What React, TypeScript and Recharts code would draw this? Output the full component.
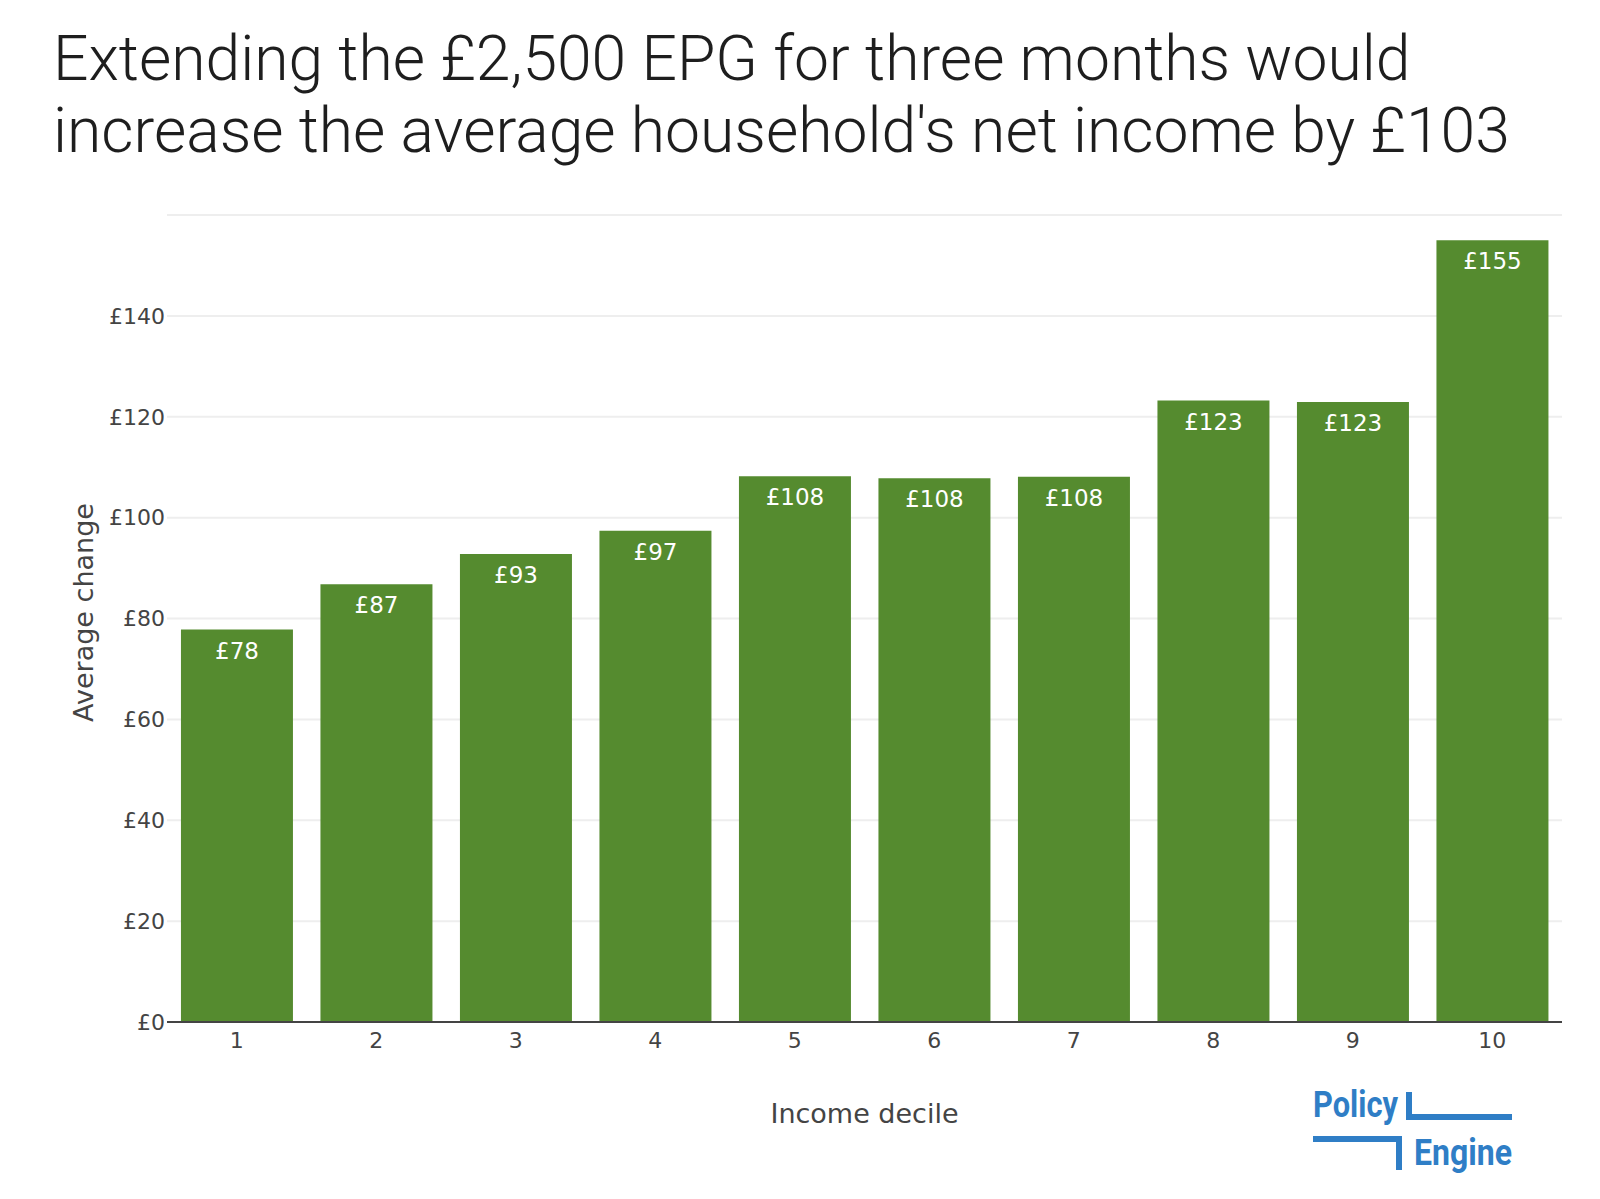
import { BarChart, Bar, XAxis, YAxis, CartesianGrid, LabelList } from 'recharts';

const deciles = ['1', '2', '3', '4', '5', '6', '7', '8', '9', '10'];
const avgChange = [77.8, 86.8, 92.8, 97.4, 108.2, 107.8, 108.1, 123.2, 122.9, 155.0];
const yTicks = [0, 20, 40, 60, 80, 100, 120, 140, 160];

const titleLines = [
  'Extending the £2,500 EPG for three months would',
  "increase the average household's net income by £103",
];

const data = deciles.map((d, i) => ({ decile: d, change: avgChange[i] }));

const GREEN = '#558b2f';
const BLUE = '#2f7ec6';
const AXIS_FONT = 'Verdana, "DejaVu Sans", sans-serif';

const barLabel = (props: any) => {
  const { x, y, width, value } = props;
  return (
    <text
      x={x + width / 2}
      y={y + 29}
      textAnchor="middle"
      fill="#ffffff"
      fontSize={23}
      fontFamily={AXIS_FONT}
    >
      £{Math.round(value)}
    </text>
  );
};

export default function App() {
  return (
    <div style={{ position: 'absolute', left: 0, top: 0, width: 1600, height: 1199, background: '#fff' }}>
      <BarChart
        width={1600}
        height={1199}
        data={data}
        margin={{ top: 215, right: 38, left: 87, bottom: 137 }}
        barCategoryGap="10%"
      >
        <CartesianGrid vertical={false} stroke="#eeeeee" strokeWidth={2} />
        <XAxis
          dataKey="decile"
          height={40}
          tickLine={false}
          tickSize={0}
          tickMargin={10}
          axisLine={{ stroke: '#444', strokeWidth: 2 }}
          tick={{ fill: '#444', fontSize: 22, fontFamily: AXIS_FONT }}
          label={{
            content: (p: any) => (
              <text
                x={p.viewBox.x + p.viewBox.width / 2}
                y={p.viewBox.y + 101}
                textAnchor="middle"
                fill="#444"
                fontSize={27}
                fontFamily={AXIS_FONT}
              >
                Income decile
              </text>
            ),
          }}
        />
        <YAxis
          width={80}
          domain={[0, 160]}
          ticks={yTicks}
          interval={0}
          tickLine={false}
          axisLine={false}
          tickSize={0}
          tickMargin={2}
          tick={{ fill: '#444', fontSize: 22, fontFamily: AXIS_FONT }}
          tickFormatter={(v: number) => (v === 160 ? '' : `£${v}`)}
          label={{
            content: (p: any) => {
              const cx = p.viewBox.x + 6;
              const cy = p.viewBox.y + p.viewBox.height / 2 - 6;
              return (
                <text
                  x={cx}
                  y={cy}
                  transform={`rotate(-90, ${cx}, ${cy})`}
                  textAnchor="middle"
                  fill="#444"
                  fontSize={27}
                  fontFamily={AXIS_FONT}
                >
                  Average change
                </text>
              );
            },
          }}
        />
        <Bar dataKey="change" fill={GREEN} isAnimationActive={false}>
          <LabelList dataKey="change" content={barLabel} />
        </Bar>
      </BarChart>
      <svg
        width={1600}
        height={1199}
        style={{ position: 'absolute', left: 0, top: 0, pointerEvents: 'none' }}
      >
        {titleLines.map((t, i) => (
          <text
            key={i}
            x={53}
            y={80 + i * 72}
            fill="#1e1e1e"
            fontSize={62.4}
            fontWeight={300}
            fontFamily="Roboto, sans-serif"
          >
            {t}
          </text>
        ))}
        {/* logo */}
        <g fill={BLUE}>
          <text x={1313} y={1117} fontSize={37} fontWeight={700} fontFamily="Roboto, sans-serif"
            textLength={85} lengthAdjust="spacingAndGlyphs">Policy</text>
          <rect x={1406} y={1092} width={6} height={28} />
          <rect x={1406} y={1114} width={106} height={6} />
          <rect x={1313} y={1136} width={89} height={6} />
          <rect x={1396} y={1136} width={6} height={34} />
          <text x={1414} y={1165} fontSize={36} fontWeight={700} fontFamily="Roboto, sans-serif"
            textLength={98} lengthAdjust="spacingAndGlyphs">Engine</text>
        </g>
      </svg>
    </div>
  );
}
